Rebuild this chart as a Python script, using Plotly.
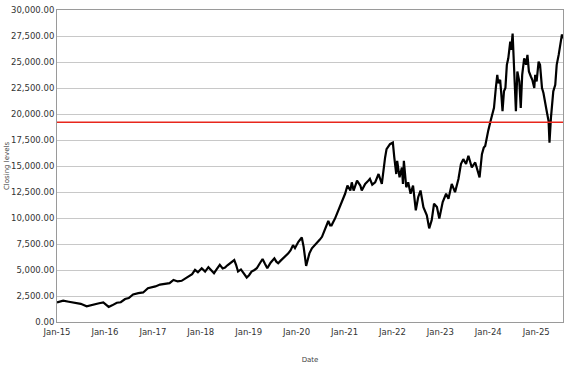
import plotly.graph_objects as go

dates = [
    "2015-01-01", "2015-02-17", "2015-04-01", "2015-05-19", "2015-07-01", "2015-08-15", "2015-09-13",
    "2015-10-16", "2015-11-18", "2015-12-20", "2016-01-30", "2016-02-25", "2016-04-01", "2016-05-01",
    "2016-06-03", "2016-07-01", "2016-08-03", "2016-09-12", "2016-10-19", "2016-11-24", "2017-01-01",
    "2017-01-20", "2017-02-24", "2017-04-01", "2017-05-08", "2017-06-07", "2017-07-09", "2017-08-08",
    "2017-09-02", "2017-09-27", "2017-10-27", "2017-11-18", "2017-12-10", "2018-01-08", "2018-02-03",
    "2018-02-28", "2018-03-22", "2018-04-12", "2018-05-04", "2018-05-26", "2018-06-17", "2018-07-05",
    "2018-07-23", "2018-08-11", "2018-09-13", "2018-09-27", "2018-10-12", "2018-11-03", "2018-11-21",
    "2018-12-17", "2019-01-04", "2019-01-23", "2019-02-14", "2019-03-04", "2019-03-25", "2019-04-17",
    "2019-05-05", "2019-05-23", "2019-06-17", "2019-07-16", "2019-07-31", "2019-08-14", "2019-09-02",
    "2019-09-20", "2019-10-08", "2019-10-30", "2019-11-17", "2019-12-05", "2019-12-20", "2020-01-15",
    "2020-02-10", "2020-02-24", "2020-03-14", "2020-03-28", "2020-04-08", "2020-04-27", "2020-05-15",
    "2020-06-03", "2020-06-25", "2020-07-13", "2020-08-08", "2020-08-30", "2020-09-13", "2020-09-24",
    "2020-10-20", "2020-11-14", "2020-12-10", "2021-01-05", "2021-01-23", "2021-02-14", "2021-02-25",
    "2021-03-11", "2021-04-06", "2021-05-01", "2021-05-12", "2021-06-07", "2021-06-25", "2021-07-13",
    "2021-07-31", "2021-08-22", "2021-09-17", "2021-10-12", "2021-11-06", "2021-11-17", "2021-12-13",
    "2022-01-04", "2022-01-15", "2022-01-30", "2022-02-06", "2022-02-24", "2022-03-14", "2022-03-22",
    "2022-03-29", "2022-04-16", "2022-05-01", "2022-05-19", "2022-06-07", "2022-06-28", "2022-07-16",
    "2022-08-03", "2022-08-25", "2022-09-20", "2022-10-08", "2022-10-27", "2022-11-14", "2022-12-06",
    "2022-12-24", "2023-01-19", "2023-02-14", "2023-03-04", "2023-03-29", "2023-04-23", "2023-05-19",
    "2023-06-07", "2023-06-25", "2023-07-16", "2023-08-03", "2023-08-29", "2023-09-24", "2023-10-12",
    "2023-10-27", "2023-11-14", "2023-11-28", "2023-12-09", "2023-12-20", "2024-01-01", "2024-01-19",
    "2024-02-06", "2024-02-14", "2024-02-28", "2024-03-10", "2024-03-18", "2024-04-01", "2024-04-12",
    "2024-04-19", "2024-04-30", "2024-05-11", "2024-05-22", "2024-06-02", "2024-06-17", "2024-06-24",
    "2024-07-05", "2024-07-12", "2024-07-23", "2024-07-30", "2024-08-10", "2024-08-25", "2024-09-05",
    "2024-09-16", "2024-10-01", "2024-10-15", "2024-10-26", "2024-11-06", "2024-11-21", "2024-12-02",
    "2024-12-17", "2024-12-24", "2025-01-04", "2025-01-19", "2025-01-30", "2025-02-14", "2025-02-25",
    "2025-03-11", "2025-03-22", "2025-04-05", "2025-04-12", "2025-04-23", "2025-04-30", "2025-05-11",
    "2025-05-26", "2025-06-06", "2025-06-21", "2025-07-02", "2025-07-16", "2025-07-23",
]

closing = [
    1890, 2050, 1950, 1830, 1750, 1510, 1600,
    1765, 1800, 1890, 1450, 1600, 1850, 1900,
    2210, 2300, 2650, 2780, 2840, 3250, 3350,
    3420, 3600, 3650, 3740, 4050, 3900, 3960,
    4150, 4370, 4600, 5010, 4790, 5170, 4850,
    5270, 4950, 4690, 5100, 5490, 5150, 5230,
    5450, 5650, 5960, 5500, 4850, 5050, 4690,
    4280, 4500, 4850, 5000, 5170, 5600, 6060,
    5600, 5170, 5700, 6120, 5800, 5650, 5900,
    6120, 6300, 6600, 6900, 7390, 7100, 7710,
    8130, 7230, 5390, 6200, 6600, 7080, 7300,
    7560, 7900, 8190, 8990, 9710, 9300, 9300,
    9940, 10730, 11690, 12330, 13120, 12640, 13430,
    12640, 13590, 13120, 12640, 13280, 13500, 13760,
    13200, 13430, 14230, 13280, 15820, 16620, 17100,
    17250, 15820, 14230, 15500, 13910, 14860, 13280,
    15500, 12960, 13430, 12330, 13120, 10730, 12000,
    12640, 11050, 10260, 9000, 9780, 11370, 11050,
    9940, 11530, 12330, 11850, 13280, 12480, 13760,
    15190, 15660, 15190, 15980, 14860, 15340, 14550,
    13910, 16140, 16770, 16930, 17730, 18400, 19320,
    20270, 20590, 22500, 23770, 22970, 23290, 21540,
    20270, 22180, 22500, 24730, 25360, 26950, 26160,
    27740, 25680, 22810, 20270, 24090, 23130, 20590,
    23770, 25360, 24730, 25680, 24090, 23610, 23290,
    22500, 23770, 23130, 25040, 24730, 22500, 22020,
    21220, 20270, 19320, 17250, 19630, 20590, 22180,
    22810, 24730, 25680, 26640, 27650, 27260,
]

reference_level = 19200
y_ticks = [0, 2500, 5000, 7500, 10000, 12500, 15000, 17500, 20000, 22500, 25000, 27500, 30000]
x_ticks = ["2015-01-01", "2016-01-01", "2017-01-01", "2018-01-01", "2019-01-01", "2020-01-01",
           "2021-01-01", "2022-01-01", "2023-01-01", "2024-01-01", "2025-01-01"]

fig = go.Figure()
fig.add_trace(go.Scatter(x=dates, y=closing, mode="lines",
                         line=dict(color="black", width=2.2), showlegend=False,
                         hoverinfo="skip"))
fig.add_shape(type="line", xref="paper", x0=0, x1=1, yref="y",
              y0=reference_level, y1=reference_level,
              line=dict(color="#e8261c", width=1.5))

fig.update_layout(
    width=577, height=367,
    margin=dict(l=57, r=14, t=5, b=44),
    plot_bgcolor="white", paper_bgcolor="white",
    font=dict(family="DejaVu Sans", size=8.5, color="#333333"),
    hovermode=False,
    xaxis=dict(
        range=["2015-01-01", "2025-07-24"],
        tickvals=x_ticks, tickformat="%b-%y",
        showgrid=False, showline=True, linecolor="#9a9a9a", linewidth=1, mirror=True,
        ticks="", ticklabelstandoff=2,
        title=dict(text="Date", font=dict(size=7, color="#444444"), standoff=20),
        zeroline=False,
    ),
    yaxis=dict(
        range=[0, 30000],
        tickvals=y_ticks, tickformat=",.2f",
        showgrid=True, gridcolor="#c8c8c8", gridwidth=1,
        showline=True, linecolor="#9a9a9a", linewidth=1, mirror=True,
        ticks="",
        title=dict(text="Closing levels", font=dict(size=7, color="#444444"), standoff=0),
        zeroline=False,
    ),
)
fig.write_html("out.html", config={"displayModeBar": False},
               post_script="document.body.style.margin='0';")
